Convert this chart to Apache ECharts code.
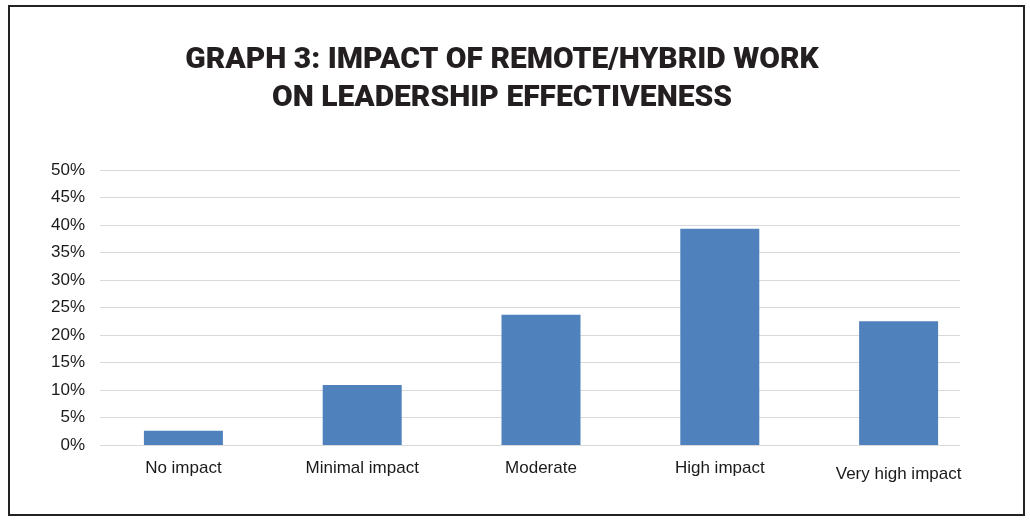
<!DOCTYPE html>
<html>
<head>
<meta charset="utf-8">
<script src="https://cdn.jsdelivr.net/npm/echarts@6/dist/echarts.min.js"></script>
<style>
html,body{margin:0;padding:0;background:#fff;}
#c{width:1030px;height:525px;}
</style>
</head>
<body>
<div id="c"></div>
<script>
var titleText = 'GRAPH 3: IMPACT OF REMOTE/HYBRID WORK\nON LEADERSHIP EFFECTIVENESS';
var categories = ['No impact', 'Minimal impact', 'Moderate', 'High impact', 'Very high impact'];
var values = [2.6, 10.9, 23.7, 39.3, 22.5];
var yTicks = [0, 5, 10, 15, 20, 25, 30, 35, 40, 45, 50];

var chart = echarts.init(document.getElementById('c'), null, {renderer: 'canvas'});
var catData = categories.map(function (c, i) {
  return i === categories.length - 1 ? {value: c, textStyle: {padding: [6, 0, 0, 0]}} : c;
});
var option = {
  backgroundColor: '#fff',
  animation: false,
  title: {
    text: titleText,
    left: 497,
    top: 36,
    textAlign: 'center',
    textStyle: {
      fontFamily: 'Roboto',
      fontWeight: 900,
      fontSize: 30,
      lineHeight: 38,
      color: '#231f20'
    }
  },
  graphic: [{
    type: 'rect',
    shape: {x: 9, y: 6, width: 1015, height: 509},
    style: {fill: 'none', stroke: '#222', lineWidth: 2},
    silent: true
  }],
  grid: [
    {left: 100, right: 70, top: 170, bottom: 80},
    {left: 94, right: 42, top: 170, bottom: 80}
  ],
  xAxis: [
    {gridIndex: 0, type: 'category', data: categories, show: false},
    {
      gridIndex: 1, type: 'category', data: catData,
      axisLine: {show: false}, axisTick: {show: false},
      axisLabel: {margin: 15, fontFamily: 'Liberation Sans', fontSize: 17, color: '#1a1a1a'}
    }
  ],
  yAxis: [
    {
      gridIndex: 0, type: 'value', min: yTicks[0], max: yTicks[yTicks.length - 1], interval: 5,
      axisLine: {show: false}, axisTick: {show: false},
      axisLabel: {margin: 15, formatter: '{value}%', fontFamily: 'Liberation Sans', fontSize: 17, color: '#1a1a1a'},
      splitLine: {lineStyle: {color: '#d9d9d9', width: 1}}
    },
    {
      gridIndex: 1, type: 'value', min: yTicks[0], max: yTicks[yTicks.length - 1], interval: 5,
      show: false, splitLine: {show: false}
    }
  ],
  series: [{
    type: 'bar',
    xAxisIndex: 1,
    yAxisIndex: 1,
    data: values,
    barWidth: 79,
    itemStyle: {color: '#4F81BD'}
  }]
};
chart.setOption(option);
</script>
</body>
</html>
